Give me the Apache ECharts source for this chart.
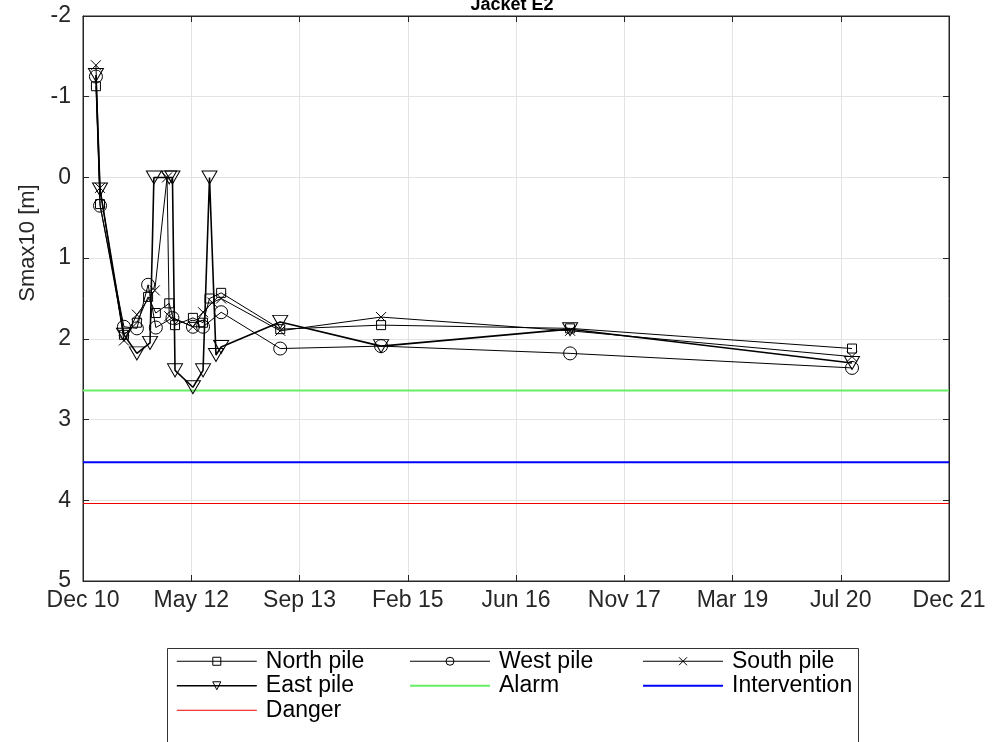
<!DOCTYPE html>
<html>
<head>
<meta charset="utf-8">
<script src="https://cdn.jsdelivr.net/npm/echarts@6/dist/echarts.min.js"></script>
<style>
  html, body { margin: 0; padding: 0; background: #fff; }
  #myChart { width: 995px; height: 742px; }
</style>
</head>
<body>
<div id="myChart"></div>
<script>
// axis ticks (equal steps of time from start)
const axisStart = '2010-12-10'
const axisDays = 4018
const tickLabels = ['Dec 10', 'May 12', 'Sep 13', 'Feb 15', 'Jun 16', 'Nov 17', 'Mar 19', 'Jul 20', 'Dec 21']

// North pile
const northDates = ['2011-02-08', '2011-02-27', '2011-06-18', '2011-08-17', '2011-10-08', '2011-11-13', '2012-01-14', '2012-02-10', '2012-05-03', '2012-06-19', '2012-07-19', '2012-09-11', '2013-06-12', '2014-09-23', '2017-02-16', '2020-09-16']
const northVals = [-1.13, 0.33, 1.95, 1.8, 1.48, 1.68, 1.56, 1.83, 1.74, 1.8, 1.5, 1.43, 1.88, 1.83, 1.87, 2.12]

// West pile
const westDates = ['2011-02-08', '2011-02-27', '2011-06-18', '2011-08-17', '2011-10-08', '2011-11-13', '2012-01-29', '2012-05-03', '2012-06-19', '2012-09-11', '2013-06-12', '2014-09-23', '2017-02-16', '2020-09-16']
const westVals = [-1.25, 0.35, 1.85, 1.87, 1.33, 1.86, 1.74, 1.85, 1.85, 1.67, 2.12, 2.09, 2.18, 2.36]

// South pile
const southDates = ['2011-02-08', '2011-02-27', '2011-06-18', '2011-08-17', '2011-11-08', '2012-01-04', '2012-01-14', '2012-05-03', '2012-06-19', '2012-08-01', '2012-09-11', '2013-06-12', '2014-09-23', '2017-02-16', '2020-09-16']
const southVals = [-1.39, 0.13, 2.02, 1.7, 1.4, 0.0, 1.72, 1.85, 1.67, 1.55, 1.5, 1.9, 1.73, 1.9, 2.22]

// East pile
const eastDates = ['2011-02-08', '2011-02-27', '2011-06-18', '2011-08-17', '2011-10-17', '2011-11-04', '2012-01-14', '2012-01-29', '2012-02-10', '2012-05-03', '2012-06-19', '2012-07-19', '2012-08-18', '2012-09-11', '2013-06-12', '2014-09-23', '2017-02-16', '2020-09-16']
const eastVals = [-1.27, 0.15, 1.95, 2.18, 2.05, 0.0, 0.0, 0.0, 2.39, 2.6, 2.39, 0.0, 2.2, 2.1, 1.79, 2.09, 1.88, 2.3]

// thresholds
const limitNames = ['Alarm', 'Intervention', 'Danger']
const limitVals = [2.64, 3.53, 4.04]
const limitColors = ['#66ee66', '#0000ff', '#ee0000']

const dayMs = 864e5
const t0 = Date.parse(axisStart)
const step = axisDays / (tickLabels.length - 1)
function toDays(d) { return (Date.parse(d) - t0) / dayMs }
function pairs(dates, vals) { return dates.map((d, i) => [toDays(d), vals[i]]) }

const font = "'Liberation Sans', Arial, Helvetica, sans-serif"
const ink = '#262626'

const triDown = 'path://M0,0 L10,0 L5,9 Z'
const cross = 'path://M0,0 L10,10 M10,0 L0,10'

function pile(name, dates, vals, symbol, size, width) {
  return {
    name: name, type: 'line', data: pairs(dates, vals),
    symbol: symbol, symbolSize: size, showAllSymbol: true,
    lineStyle: { color: '#000', width: width },
    itemStyle: { color: 'none', borderColor: '#000', borderWidth: 1 },
    z: 5
  }
}

let series = [
  pile('North pile', northDates, northVals, 'rect', 9, 1),
  pile('West pile', westDates, westVals, 'circle', 13, 1),
  pile('South pile', southDates, southVals, cross, 10, 1),
  pile('East pile', eastDates, eastVals, triDown, [15, 13], 1.6)
]
limitNames.forEach((n, i) => {
  series.push({
    name: n, type: 'line', symbol: 'none',
    data: [[0, limitVals[i]], [axisDays, limitVals[i]]],
    lineStyle: { color: limitColors[i], width: i === 2 ? 1 : 2 },
    itemStyle: { color: limitColors[i] },
    z: 3
  })
})

// legend entries: hollow marks for piles, plain lines for limits
function item(name) {
  let li = limitNames.indexOf(name)
  if (li >= 0) {
    return { name: name, itemStyle: { opacity: 0 }, lineStyle: { width: li === 2 ? 1 : 2 } }
  }
  return {
    name: name,
    itemStyle: { color: 'transparent', borderColor: '#000', borderWidth: 1 },
    lineStyle: { width: name === 'East pile' ? 1.6 : 1 }
  }
}

function legendCol(left, names) {
  return {
    orient: 'vertical', left: left, top: 649, padding: 0,
    itemWidth: 80, itemHeight: 10, itemGap: 0,
    data: names.map(item),
    textStyle: { fontFamily: font, fontSize: 23, color: '#000', lineHeight: 24.5, padding: [0, 0, 0, 4] }
  }
}

const xAxisBase = {
  type: 'value', min: 0, max: axisDays, interval: step,
  axisLine: { onZero: false, lineStyle: { color: ink } },
  axisTick: { inside: true, length: 6, lineStyle: { color: ink } }
}
const yAxisBase = {
  type: 'value', inverse: true, min: -2, max: 5, interval: 1,
  axisLine: { show: true, onZero: false, lineStyle: { color: ink } },
  axisTick: { show: true, inside: true, length: 6, lineStyle: { color: ink } }
}

let myChart = echarts.init(document.getElementById('myChart'))
myChart.setOption({
  animation: false,
  backgroundColor: '#fff',
  title: {
    text: 'Jacket E2', left: 507, textAlign: 'center', top: -9,
    textStyle: { fontFamily: font, fontSize: 18, fontWeight: 'bold', color: '#000' }
  },
  grid: { left: 83, right: 46, top: 16, bottom: 161, show: true, borderColor: ink, borderWidth: 1 },
  legend: [
    legendCol(176, ['North pile', 'East pile', 'Danger']),
    legendCol(409, ['West pile', 'Alarm']),
    legendCol(642, ['South pile', 'Intervention'])
  ],
  xAxis: [Object.assign({}, xAxisBase, {
    splitLine: { show: true, lineStyle: { color: '#e3e3e3' } },
    axisLabel: {
      margin: 8, fontFamily: font, fontSize: 23, color: ink,
      formatter: v => tickLabels[Math.round(v / step)]
    }
  }), Object.assign({}, xAxisBase, {
    position: 'top', axisLabel: { show: false }, splitLine: { show: false }
  })],
  yAxis: [Object.assign({}, yAxisBase, {
    splitLine: { show: true, lineStyle: { color: '#e3e3e3' } },
    axisLabel: { margin: 12, fontFamily: font, fontSize: 23, color: ink }
  }), Object.assign({}, yAxisBase, {
    position: 'right', axisLabel: { show: false }, splitLine: { show: false }
  })],
  graphic: [
    {
      type: 'text', x: 28, y: 243, rotation: Math.PI / 2,
      style: { text: 'Smax10 [m]', fontFamily: font, fontSize: 22, fill: ink, align: 'center', verticalAlign: 'middle' }
    },
    {
      type: 'rect', shape: { x: 167.5, y: 648.5, width: 691, height: 120 },
      style: { fill: 'none', stroke: '#333', lineWidth: 1 }, z: -1
    }
  ],
  series: series
})
</script>
</body>
</html>
